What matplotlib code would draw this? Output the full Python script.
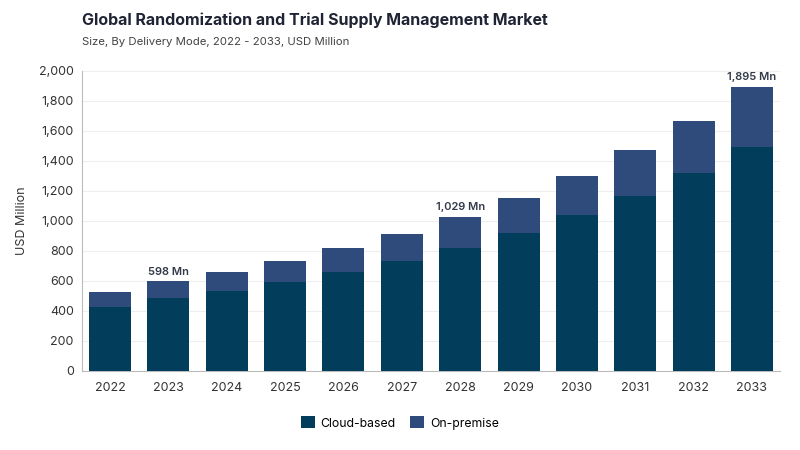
import numpy as np
import matplotlib.pyplot as plt

plt.rcParams['font.family'] = ['Inter', 'DejaVu Sans']

# data
years = ['2022', '2023', '2024', '2025', '2026', '2027', '2028', '2029', '2030', '2031', '2032', '2033']
cloud = [429, 484, 531, 591, 658, 733, 820, 920, 1039, 1164, 1318, 1491]
total = [526, 598, 658, 732, 818, 915, 1029, 1155, 1302, 1472, 1665, 1895]
onprem = [t - c for t, c in zip(total, cloud)]
labelled = {'2023': '598 Mn', '2028': '1,029 Mn', '2033': '1,895 Mn'}

c_cloud = '#023d5b'
c_onprem = '#2f4b7c'

fig = plt.figure(figsize=(8, 4.5), dpi=100)
ax = fig.add_axes([0.1025, 0.1756, 0.8725, 0.6667])

x = np.arange(len(years))
ax.bar(x, cloud, width=0.72, color=c_cloud, label='Cloud-based', zorder=3)
ax.bar(x, onprem, width=0.72, bottom=cloud, color=c_onprem, label='On-premise', zorder=3)

for i, y in enumerate(years):
    if y in labelled:
        ax.text(i, total[i] + 30, labelled[y], ha='center', va='bottom',
                fontsize=8, color='#333a4a', fontweight='semibold')

ax.set_ylim(0, 2000)
ax.set_xlim(-0.48, len(years) - 0.52)
ax.set_yticks(np.arange(0, 2001, 200))
ax.set_yticklabels([f'{v:,}' for v in range(0, 2001, 200)])
ax.set_xticks(x)
ax.set_xticklabels(years)
ax.tick_params(axis='both', length=0, labelsize=9, colors='#333333')
ax.tick_params(axis='x', pad=8)
ax.tick_params(axis='y', pad=6)
ax.grid(axis='y', color='#eeeeee', linewidth=0.8, zorder=0)
for s in ['top', 'right']:
    ax.spines[s].set_visible(False)
ax.spines['left'].set_color('#bbbbbb')
ax.spines['bottom'].set_color('#bbbbbb')
ax.set_ylabel('USD Million', fontsize=9, color='#333333', labelpad=8)

fig.text(0.1025, 0.955, 'Global Randomization and Trial Supply Management Market',
         fontsize=11.5, fontweight='bold', color='#1f2333', va='center')
fig.text(0.1025, 0.907, 'Size, By Delivery Mode, 2022 - 2033, USD Million',
         fontsize=8.2, color='#444444', va='center')

fig.legend(loc='center', bbox_to_anchor=(0.5, 0.06), ncol=2, frameon=False,
           fontsize=8.8, handlelength=1.1, handleheight=1.1, columnspacing=1.2,
           handletextpad=0.5)

fig.savefig('out.png', dpi=100)
